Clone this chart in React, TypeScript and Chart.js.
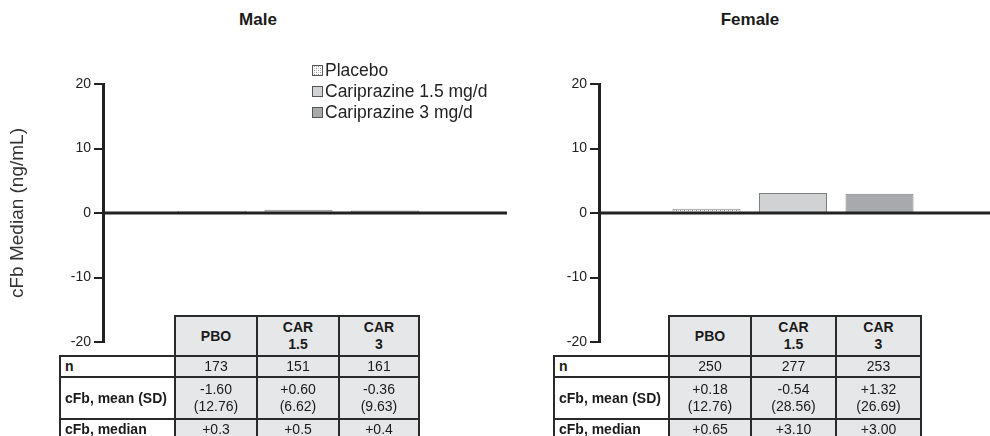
import React, { useEffect, useRef } from 'react';
import { Chart, registerables } from 'chart.js';

Chart.register(...registerables);

// ---------- data ----------
const seriesLabels = ['Placebo', 'Cariprazine 1.5 mg/d', 'Cariprazine 3 mg/d'];
const panelTitles = ['Male', 'Female'];
const maleMedian = [0.3, 0.5, 0.4];
const femaleMedian = [0.65, 3.1, 3.0];
const yAxisTitle = 'cFb Median (ng/mL)';
const yMin = -20;
const yMax = 20;
const yStep = 10;

const tableHeaders = [['PBO'], ['CAR', '1.5'], ['CAR', '3']];
const rowLabels = ['n', 'cFb, mean (SD)', 'cFb, median'];
const maleN = ['173', '151', '161'];
const maleMean = ['-1.60', '+0.60', '-0.36'];
const maleSD = ['(12.76)', '(6.62)', '(9.63)'];
const maleMedianText = ['+0.3', '+0.5', '+0.4'];
const femaleN = ['250', '277', '253'];
const femaleMean = ['+0.18', '-0.54', '+1.32'];
const femaleSD = ['(12.76)', '(28.56)', '(26.69)'];
const femaleMedianText = ['+0.65', '+3.10', '+3.00'];

// ---------- styles ----------
const FONT = '"Liberation Sans", Arial, Helvetica, sans-serif';
const fillColors = ['pattern', '#d1d2d4', '#a7a9ac'];
const barBorder = '#808080';

function makePattern(): CanvasPattern | string {
  const c = document.createElement('canvas');
  c.width = 4;
  c.height = 4;
  const g = c.getContext('2d');
  if (!g) return '#f4f4f4';
  g.fillStyle = '#ffffff';
  g.fillRect(0, 0, 4, 4);
  g.fillStyle = '#8c8c8c';
  g.fillRect(0, 0, 1, 1);
  g.fillRect(2, 2, 1, 1);
  g.fillStyle = '#c8c8c8';
  g.fillRect(2, 0, 1, 1);
  g.fillRect(0, 2, 1, 1);
  return g.createPattern(c, 'repeat') || '#f4f4f4';
}

const zeroLinePlugin = {
  id: 'zeroLine',
  afterDatasetsDraw(chart: any, _args: any, opts: any) {
    const { ctx, chartArea, scales } = chart;
    const y = scales.y.getPixelForValue(0);
    ctx.save();
    ctx.strokeStyle = '#222';
    ctx.lineWidth = 3;
    ctx.beginPath();
    ctx.moveTo(chartArea.left, y);
    ctx.lineTo(chartArea.right + (opts.ext || 0), y);
    ctx.stroke();
    ctx.restore();
  },
};

const boxLegendPlugin = {
  id: 'boxLegend',
  afterDraw(chart: any, _args: any, opts: any) {
    if (!opts || !opts.show) return;
    const { ctx } = chart;
    ctx.save();
    ctx.font = `17.5px ${FONT}`;
    ctx.textBaseline = 'middle';
    chart.data.datasets.forEach((ds: any, i: number) => {
      const y = opts.y + i * opts.gap;
      const x = opts.x;
      ctx.fillStyle = ds.backgroundColor;
      ctx.fillRect(x, y - 5, 11, 11);
      ctx.strokeStyle = '#555';
      ctx.lineWidth = 1;
      ctx.strokeRect(x + 0.5, y - 4.5, 10, 10);
      ctx.fillStyle = '#222';
      ctx.fillText(ds.label, x + 13, y + 1);
    });
    ctx.restore();
  },
};

type PanelProps = {
  values: number[];
  left: number;
  width: number;
  axisWidth: number;
  padRight: number;
  zeroExt: number;
  catPct: number;
  showTitle: boolean;
  showLegend: boolean;
};

function Panel(p: PanelProps) {
  const ref = useRef<HTMLCanvasElement>(null);
  useEffect(() => {
    if (!ref.current) return;
    const pattern = makePattern();
    const chart = new Chart(ref.current, {
      type: 'bar',
      data: {
        labels: [''],
        datasets: seriesLabels.map((label, i) => ({
          label,
          data: [p.values[i]],
          backgroundColor: i === 0 ? (pattern as any) : fillColors[i],
          borderColor: barBorder,
          borderWidth: 1,
          categoryPercentage: p.catPct,
          barPercentage: 0.786,
        })),
      },
      options: {
        animation: false,
        responsive: false,
        devicePixelRatio: 1,
        layout: { padding: { top: 84, bottom: 18, left: 0, right: p.padRight } },
        plugins: {
          legend: { display: false },
          tooltip: { enabled: false },
          title: { display: false },
          zeroLine: { ext: p.zeroExt },
          boxLegend: { show: p.showLegend, x: 312, y: 70, gap: 21 },
        } as any,
        scales: {
          x: { display: false },
          y: {
            min: yMin,
            max: yMax,
            afterFit: (s: any) => {
              s.width = p.axisWidth;
            },
            ticks: {
              stepSize: yStep,
              color: '#222',
              font: { size: 14, family: FONT },
              padding: 3,
            },
            grid: {
              display: true,
              drawOnChartArea: false,
              drawTicks: true,
              tickLength: 9,
              color: '#222',
              lineWidth: 2,
            },
            border: { display: true, color: '#222', width: 3 },
            title: {
              display: p.showTitle,
              text: yAxisTitle,
              color: '#333',
              font: { size: 19, family: FONT },
              padding: { top: 6, bottom: 0 },
            },
          },
        },
      },
      plugins: [zeroLinePlugin, boxLegendPlugin],
    });
    return () => chart.destroy();
  }, []);
  return (
    <canvas
      ref={ref}
      width={p.width}
      height={360}
      style={{ position: 'absolute', left: p.left, top: 0, width: p.width, height: 360 }}
    />
  );
}

type TableProps = {
  xs: number[];
  n: string[];
  mean: string[];
  sd: string[];
  median: string[];
};

const rowYs = [315, 355, 376, 418, 438];

function StatsTable({ xs, n, mean, sd, median }: TableProps) {
  const cells: React.ReactNode[] = [];
  const cell = (key: string, c: number, r: number, content: React.ReactNode, opts: any = {}) => {
    const x = xs[c];
    const w = xs[c + 1] - xs[c] + 2;
    const y = rowYs[r];
    const h = rowYs[r + 1] - rowYs[r] + 2;
    cells.push(
      <div
        key={key}
        style={{
          position: 'absolute',
          left: x,
          top: y,
          width: w,
          height: h,
          boxSizing: 'border-box',
          border: '2px solid #2a2a2a',
          background: opts.bg || '#e6e7e8',
          display: 'flex',
          flexDirection: 'column',
          justifyContent: 'center',
          alignItems: opts.left ? 'flex-start' : 'center',
          paddingLeft: opts.left ? 4 : 0,
          fontFamily: FONT,
          fontSize: 14,
          fontWeight: opts.bold ? 'bold' : 'normal',
          lineHeight: '17px',
          color: '#1a1a1a',
          textAlign: 'center',
          whiteSpace: 'nowrap',
        }}
      >
        {content}
      </div>
    );
  };
  tableHeaders.forEach((lines, i) =>
    cell('h' + i, i + 1, 0, lines.map((l, k) => <div key={k}>{l}</div>), { bold: true })
  );
  rowLabels.forEach((l, r) => cell('l' + r, 0, r + 1, l, { bg: '#ffffff', left: true, bold: true }));
  n.forEach((v, i) => cell('n' + i, i + 1, 1, v));
  mean.forEach((v, i) =>
    cell('m' + i, i + 1, 2, [<div key="a">{v}</div>, <div key="b">{sd[i]}</div>])
  );
  median.forEach((v, i) => cell('d' + i, i + 1, 3, v));
  return <>{cells}</>;
}

export default function App() {
  const titleStyle = (cx: number): React.CSSProperties => ({
    position: 'absolute',
    left: cx - 60,
    width: 120,
    top: 10,
    textAlign: 'center',
    fontFamily: FONT,
    fontWeight: 'bold',
    fontSize: 17,
    color: '#1a1a1a',
  });
  return (
    <div
      style={{
        position: 'absolute',
        left: 0,
        top: 0,
        width: 990,
        height: 436,
        overflow: 'hidden',
        background: '#ffffff',
      }}
    >
      <div style={titleStyle(258)}>{panelTitles[0]}</div>
      <div style={titleStyle(750)}>{panelTitles[1]}</div>
      <Panel
        values={maleMedian}
        left={0}
        width={515}
        axisWidth={103}
        padRight={21}
        zeroExt={13}
        catPct={0.664}
        showTitle={true}
        showLegend={true}
      />
      <Panel
        values={femaleMedian}
        left={510}
        width={480}
        axisWidth={89}
        padRight={3}
        zeroExt={3}
        catPct={0.669}
        showTitle={false}
        showLegend={false}
      />
      <StatsTable xs={[59, 174, 256, 338, 418]} n={maleN} mean={maleMean} sd={maleSD} median={maleMedianText} />
      <StatsTable
        xs={[553, 668, 750, 835, 920]}
        n={femaleN}
        mean={femaleMean}
        sd={femaleSD}
        median={femaleMedianText}
      />
    </div>
  );
}
